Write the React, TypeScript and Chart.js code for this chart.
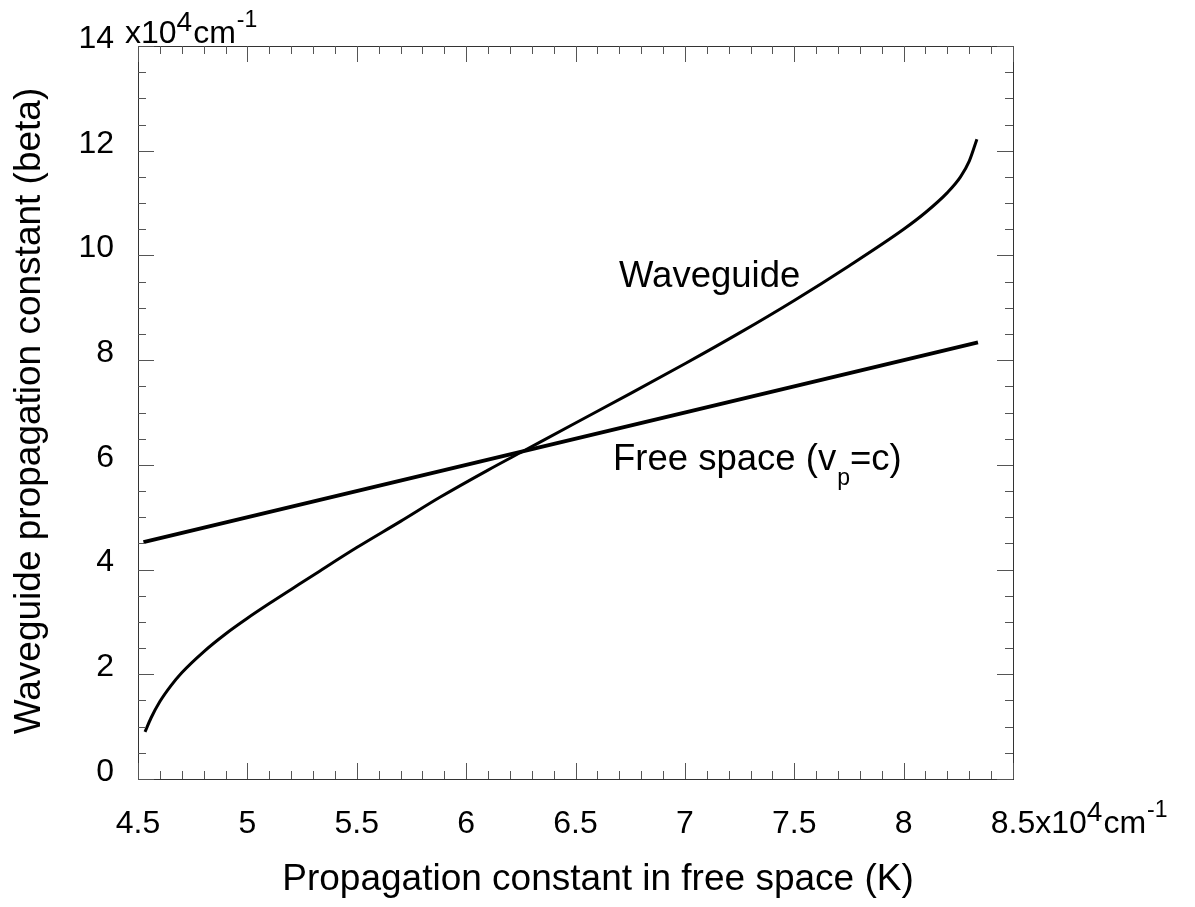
import React, { useEffect, useRef } from "react";
import { Chart, registerables } from "chart.js";

Chart.register(...registerables);

// Data (units of 10^4 cm^-1)
const kWaveguide = [4.532, 4.56, 4.6, 4.65, 4.7, 4.8, 4.9, 5.0, 5.1, 5.2, 5.33, 5.5, 5.7, 5.88, 6.1, 6.26, 6.5, 6.75, 7.0, 7.25, 7.5, 7.75, 8.0, 8.1, 8.2, 8.26, 8.3, 8.335];
const betaWaveguide = [0.9, 1.17, 1.48, 1.78, 2.03, 2.43, 2.77, 3.07, 3.35, 3.62, 3.97, 4.42, 4.92, 5.38, 5.9, 6.26, 6.8, 7.36, 7.93, 8.52, 9.14, 9.8, 10.5, 10.82, 11.2, 11.5, 11.8, 12.22];
const kFreeSpace = [4.525, 8.34];
const betaFreeSpace = [4.525, 8.34];

const xTickLabels = ["4.5", "5", "5.5", "6", "6.5", "7", "7.5", "8", "8.5"];
const yTickLabels = ["0", "2", "4", "6", "8", "10", "12", "14"];
const X_MIN = 4.5, X_MAX = 8.5, X_MAJOR = 0.5, X_MINOR = 0.1;
const Y_MIN = 0, Y_MAX = 14, Y_MAJOR = 2, Y_MINOR = 0.5;

const xTitle = "Propagation constant in free space (K)";
const yTitle = "Waveguide propagation constant (beta)";
const FONT = "'Liberation Sans', Arial, sans-serif";

const decorPlugin = {
  id: "decor",
  afterDraw(chart: any) {
    const ctx: CanvasRenderingContext2D = chart.ctx;
    const ca = chart.chartArea;
    const xs = chart.scales.x;
    const ys = chart.scales.y;
    ctx.save();
    // frame
    ctx.strokeStyle = "#333";
    ctx.lineWidth = 1;
    ctx.strokeRect(Math.round(ca.left) + 0.5, Math.round(ca.top) + 0.5, Math.round(ca.right - ca.left), Math.round(ca.bottom - ca.top));
    // ticks
    ctx.strokeStyle = "#555";
    ctx.beginPath();
    const nx = Math.round((X_MAX - X_MIN) / X_MINOR);
    for (let i = 0; i <= nx; i++) {
      const v = X_MIN + i * X_MINOR;
      const major = i % Math.round(X_MAJOR / X_MINOR) === 0;
      const len = major ? 16 : 8;
      const px = Math.round(xs.getPixelForValue(v)) + 0.5;
      ctx.moveTo(px, ca.bottom);
      ctx.lineTo(px, ca.bottom - len);
      ctx.moveTo(px, ca.top);
      ctx.lineTo(px, ca.top + len);
    }
    const ny = Math.round((Y_MAX - Y_MIN) / Y_MINOR);
    for (let i = 0; i <= ny; i++) {
      const v = Y_MIN + i * Y_MINOR;
      const major = i % Math.round(Y_MAJOR / Y_MINOR) === 0;
      const len = major ? 16 : 8;
      const py = Math.round(ys.getPixelForValue(v)) + 0.5;
      ctx.moveTo(ca.left, py);
      ctx.lineTo(ca.left + len, py);
      ctx.moveTo(ca.right, py);
      ctx.lineTo(ca.right - len, py);
    }
    ctx.stroke();

    ctx.fillStyle = "#000";
    // x tick labels
    ctx.font = `32px ${FONT}`;
    ctx.textAlign = "center";
    ctx.textBaseline = "alphabetic";
    xTickLabels.forEach((t) => {
      ctx.fillText(t, xs.getPixelForValue(parseFloat(t)), 833);
    });
    const drawUnit = (x: number, base: number) => {
      ctx.textAlign = "left";
      ctx.font = `32px ${FONT}`;
      ctx.fillText("x10", x, base);
      x += ctx.measureText("x10").width;
      ctx.font = `28px ${FONT}`;
      ctx.fillText("4", x, base - 12);
      x += ctx.measureText("4").width + 1;
      ctx.font = `32px ${FONT}`;
      ctx.fillText("cm", x, base);
      x += ctx.measureText("cm").width + 1;
      ctx.font = `23px ${FONT}`;
      ctx.fillText("-1", x, base - 16);
    };
    ctx.font = `32px ${FONT}`;
    const ux = xs.getPixelForValue(8.5) + ctx.measureText("8.5").width / 2;
    drawUnit(ux, 833);

    // y tick labels
    ctx.font = `32px ${FONT}`;
    ctx.textAlign = "right";
    ctx.textBaseline = "middle";
    yTickLabels.forEach((t) => {
      ctx.fillText(t, 114, ys.getPixelForValue(parseFloat(t)) - 7);
    });
    ctx.textBaseline = "alphabetic";
    drawUnit(125, 43);

    // axis titles
    ctx.font = `37px ${FONT}`;
    ctx.textAlign = "center";
    ctx.textBaseline = "middle";
    ctx.fillText(xTitle, 598, 880);
    ctx.save();
    ctx.translate(30, 411);
    ctx.rotate(-Math.PI / 2);
    ctx.fillText(yTitle, 0, 0);
    ctx.restore();

    // annotations
    ctx.textAlign = "left";
    ctx.textBaseline = "alphabetic";
    ctx.font = `36.5px ${FONT}`;
    ctx.fillText("Waveguide", 619, 287);
    let fx = 613;
    const fb = 470;
    ctx.fillText("Free space (v", fx, fb);
    fx += ctx.measureText("Free space (v").width + 1;
    ctx.font = `23px ${FONT}`;
    ctx.fillText("p", fx, fb + 15);
    fx += ctx.measureText("p").width;
    ctx.font = `36.5px ${FONT}`;
    ctx.fillText("=c)", fx, fb);
    ctx.restore();
  },
};

export default function App() {
  const ref = useRef<HTMLCanvasElement | null>(null);
  useEffect(() => {
    if (!ref.current) return;
    const chart = new Chart(ref.current, {
      type: "scatter",
      data: {
        datasets: [
          {
            label: "Waveguide",
            data: kWaveguide.map((k, i) => ({ x: k, y: betaWaveguide[i] })),
            showLine: true,
            borderColor: "#000",
            borderWidth: 3,
            pointRadius: 0,
            cubicInterpolationMode: "monotone",
          },
          {
            label: "Free space",
            data: kFreeSpace.map((k, i) => ({ x: k, y: betaFreeSpace[i] })),
            showLine: true,
            borderColor: "#000",
            borderWidth: 4,
            pointRadius: 0,
          },
        ],
      },
      options: {
        responsive: false,
        animation: false,
        devicePixelRatio: 1,
        layout: { padding: { left: 138, right: 182, top: 46, bottom: 128 } },
        plugins: { legend: { display: false }, tooltip: { enabled: false } },
        scales: {
          x: { type: "linear", min: X_MIN, max: X_MAX, display: false },
          y: { type: "linear", min: Y_MIN, max: Y_MAX, display: false },
        },
      },
      plugins: [decorPlugin],
    });
    return () => chart.destroy();
  }, []);
  return (
    <div style={{ position: "fixed", left: 0, top: 0, width: 1195, height: 907, background: "#fff" }}>
      <canvas ref={ref} width={1195} height={907} style={{ width: 1195, height: 907 }} />
    </div>
  );
}
